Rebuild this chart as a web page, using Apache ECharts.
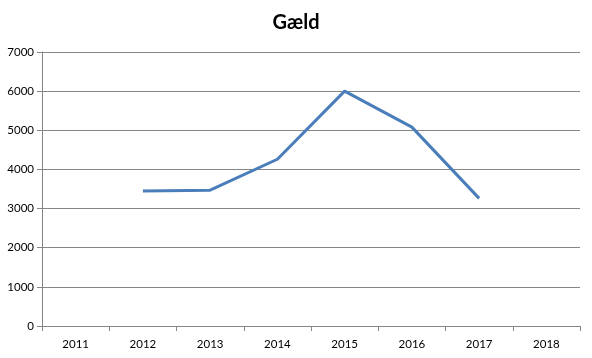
<!DOCTYPE html>
<html>
<head>
<meta charset="utf-8">
<script src="https://cdn.jsdelivr.net/npm/echarts@6/dist/echarts.min.js"></script>
<style>html,body{margin:0;padding:0;background:#fff}#c{width:592px;height:358px}</style>
</head>
<body>
<div id="c"></div>
<script>
const categories = ['2011','2012','2013','2014','2015','2016','2017','2018'];
const values = [null, 3450, 3470, 4260, 6000, 5080, 3260, null];
const yTicks = {min: 0, max: 7000, interval: 1000};

const chart = echarts.init(document.getElementById('c'));
chart.setOption({
  animation: false,
  backgroundColor: '#fff',
  title: {
    text: 'Gæld', left: 'center', top: 8,
    textStyle: {fontFamily: 'Lato', fontWeight: 'bold', fontSize: 20, color: '#000'}
  },
  grid: {left: 42, right: 12, top: 52, bottom: 32, containLabel: false},
  xAxis: {
    type: 'category', data: categories, boundaryGap: true,
    axisLine: {lineStyle: {color: '#868686', width: 1}},
    axisTick: {show: true, length: 5, lineStyle: {color: '#868686'}},
    axisLabel: {color: '#000', fontSize: 11.5, fontFamily: 'Lato', margin: 12}
  },
  yAxis: {
    type: 'value', min: yTicks.min, max: yTicks.max, interval: yTicks.interval,
    axisLine: {show: true, lineStyle: {color: '#868686', width: 1}},
    axisTick: {show: true, length: 5, lineStyle: {color: '#868686'}},
    axisLabel: {color: '#000', fontSize: 11.5, fontFamily: 'Lato', margin: 8, formatter: v => String(v)},
    splitLine: {show: true, lineStyle: {color: '#868686', width: 1}}
  },
  series: [{
    type: 'line', data: values, symbol: 'none', connectNulls: false,
    lineStyle: {color: '#4a7ebb', width: 3}
  }]
});
</script>
</body>
</html>
